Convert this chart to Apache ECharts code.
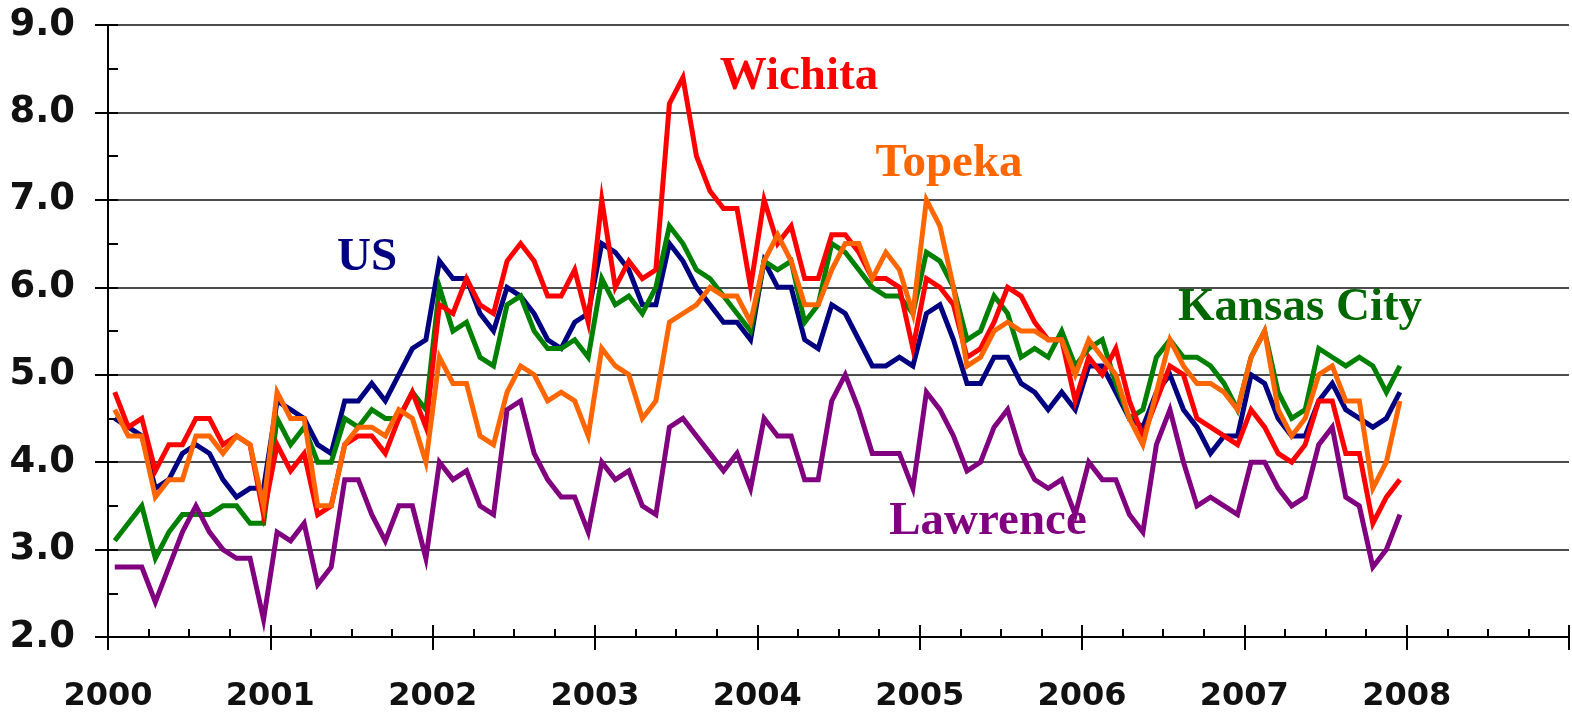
<!DOCTYPE html>
<html><head><meta charset="utf-8">
<script src="https://cdn.jsdelivr.net/npm/echarts@6/dist/echarts.min.js"></script>
<style>html,body{margin:0;padding:0;background:#fff;}#c{width:1572px;height:716px;}</style>
</head><body><div id="c"></div>
<script>
// Monthly unemployment rates (%), Jan 2000 – Dec 2007
const startYear = 2000;
const yearTicks = [2000, 2001, 2002, 2003, 2004, 2005, 2006, 2007, 2008];
const seriesNames = ['US', 'Kansas City', 'Wichita', 'Topeka', 'Lawrence'];

const usRate = [
  4.5,4.4,4.3,3.7,3.8,4.1,4.2,4.1,3.8,3.6,3.7,3.7,
  4.7,4.6,4.5,4.2,4.1,4.7,4.7,4.9,4.7,5.0,5.3,5.4,
  6.3,6.1,6.1,5.7,5.5,6.0,5.9,5.7,5.4,5.3,5.6,5.7,
  6.5,6.4,6.2,5.8,5.8,6.5,6.3,6.0,5.8,5.6,5.6,5.4,
  6.3,6.0,6.0,5.4,5.3,5.8,5.7,5.4,5.1,5.1,5.2,5.1,
  5.7,5.8,5.4,4.9,4.9,5.2,5.2,4.9,4.8,4.6,4.8,4.6,
  5.1,5.1,4.8,4.5,4.4,4.8,5.0,4.6,4.4,4.1,4.3,4.3,
  5.0,4.9,4.5,4.3,4.3,4.7,4.9,4.6,4.5,4.4,4.5,4.8
];
const kansasCityRate = [
  3.1,3.3,3.5,2.9,3.2,3.4,3.4,3.4,3.5,3.5,3.3,3.3,
  4.5,4.2,4.4,4.0,4.0,4.5,4.4,4.6,4.5,4.5,4.8,4.6,
  6.0,5.5,5.6,5.2,5.1,5.8,5.9,5.5,5.3,5.3,5.4,5.2,
  6.1,5.8,5.9,5.7,6.0,6.7,6.5,6.2,6.1,5.9,5.7,5.5,
  6.3,6.2,6.3,5.6,5.8,6.5,6.4,6.2,6.0,5.9,5.9,5.7,
  6.4,6.3,6.0,5.4,5.5,5.9,5.7,5.2,5.3,5.2,5.5,5.1,
  5.3,5.4,4.9,4.5,4.6,5.2,5.4,5.2,5.2,5.1,4.9,4.6,
  5.2,5.5,4.8,4.5,4.6,5.3,5.2,5.1,5.2,5.1,4.8,5.1
];
const wichitaRate = [
  4.8,4.4,4.5,3.9,4.2,4.2,4.5,4.5,4.2,4.3,4.2,3.4,
  4.2,3.9,4.1,3.4,3.5,4.2,4.3,4.3,4.1,4.5,4.8,4.4,
  5.8,5.7,6.1,5.8,5.7,6.3,6.5,6.3,5.9,5.9,6.2,5.6,
  7.0,6.0,6.3,6.1,6.2,8.1,8.4,7.5,7.1,6.9,6.9,6.0,
  7.0,6.5,6.7,6.1,6.1,6.6,6.6,6.4,6.1,6.1,6.0,5.3,
  6.1,6.0,5.8,5.2,5.3,5.6,6.0,5.9,5.6,5.4,5.4,4.7,
  5.2,5.0,5.3,4.7,4.3,4.7,5.1,5.0,4.5,4.4,4.3,4.2,
  4.6,4.4,4.1,4.0,4.2,4.7,4.7,4.1,4.1,3.3,3.6,3.8
];
const topekaRate = [
  4.6,4.3,4.3,3.6,3.8,3.8,4.3,4.3,4.1,4.3,4.2,3.5,
  4.8,4.5,4.5,3.5,3.5,4.2,4.4,4.4,4.3,4.6,4.5,4.0,
  5.2,4.9,4.9,4.3,4.2,4.8,5.1,5.0,4.7,4.8,4.7,4.3,
  5.3,5.1,5.0,4.5,4.7,5.6,5.7,5.8,6.0,5.9,5.9,5.6,
  6.3,6.6,6.3,5.8,5.8,6.2,6.5,6.5,6.1,6.4,6.2,5.7,
  7.0,6.7,6.0,5.1,5.2,5.5,5.6,5.5,5.5,5.4,5.4,5.0,
  5.4,5.2,5.0,4.5,4.2,4.8,5.4,5.1,4.9,4.9,4.8,4.6,
  5.2,5.5,4.6,4.3,4.5,5.0,5.1,4.7,4.7,3.7,4.0,4.7
];
const lawrenceRate = [
  2.8,2.8,2.8,2.4,2.8,3.2,3.5,3.2,3.0,2.9,2.9,2.2,
  3.2,3.1,3.3,2.6,2.8,3.8,3.8,3.4,3.1,3.5,3.5,2.9,
  4.0,3.8,3.9,3.5,3.4,4.6,4.7,4.1,3.8,3.6,3.6,3.2,
  4.0,3.8,3.9,3.5,3.4,4.4,4.5,4.3,4.1,3.9,4.1,3.7,
  4.5,4.3,4.3,3.8,3.8,4.7,5.0,4.6,4.1,4.1,4.1,3.7,
  4.8,4.6,4.3,3.9,4.0,4.4,4.6,4.1,3.8,3.7,3.8,3.4,
  4.0,3.8,3.8,3.4,3.2,4.2,4.6,4.0,3.5,3.6,3.5,3.4,
  4.0,4.0,3.7,3.5,3.6,4.2,4.4,3.6,3.5,2.8,3.0,3.4
];

const seriesData = [usRate, kansasCityRate, wichitaRate, topekaRate, lawrenceRate];
const lineColors = ['#000080', '#008000', '#FF0000', '#FF6600', '#800080'];
const labelColors = ['#000080', '#006600', '#FF0000', '#FF6600', '#800080'];

// mid-month position of each observation in decimal years
function toPoints(vals) {
  return vals.map((v, i) => [startYear + (i + 0.5) / 12, v]);
}

const chart = echarts.init(document.getElementById('c'), null, {renderer: 'canvas'});

const labelFont = {fontFamily: '"DejaVu Sans", Verdana, sans-serif', fontWeight: 'bold', color: '#111'};

const baseX = {type: 'value', min: 2000, max: 2009, position: 'bottom', gridIndex: 0, splitLine: {show: false}};

const option = {
  animation: false,
  backgroundColor: '#ffffff',
  grid: {left: 108, right: 0, top: 25, bottom: 79, containLabel: false},
  xAxis: [
    Object.assign({}, baseX, {
      interval: 1,
      axisLine: {show: true, lineStyle: {color: '#000', width: 2}},
      axisTick: {show: true, inside: false, length: 13, lineStyle: {color: '#000', width: 2}},
      axisLabel: Object.assign({
        fontSize: 32, margin: 44,
        formatter: v => (yearTicks.indexOf(Math.round(v)) >= 0 && Math.abs(v - Math.round(v)) < 1e-6) ? String(Math.round(v)) : ''
      }, labelFont)
    }),
    Object.assign({}, baseX, {
      interval: 1,
      axisLine: {show: false},
      axisTick: {show: true, inside: true, length: 12, lineStyle: {color: '#000', width: 2}},
      axisLabel: {show: false}
    }),
    Object.assign({}, baseX, {
      interval: 0.25,
      axisLine: {show: false},
      axisTick: {show: true, inside: true, length: 8, lineStyle: {color: '#000', width: 2}},
      axisLabel: {show: false}
    })
  ],
  yAxis: [
    {
      type: 'value', min: 2, max: 9, interval: 1, position: 'left',
      axisLine: {show: true, lineStyle: {color: '#000', width: 2}},
      axisTick: {show: true, inside: false, length: 13, lineStyle: {color: '#000', width: 2}},
      axisLabel: Object.assign({fontSize: 37, margin: 33, formatter: v => v.toFixed(1)}, labelFont),
      splitLine: {show: true, lineStyle: {color: '#111', width: 1.5}}
    },
    {
      type: 'value', min: 2, max: 9, interval: 0.5, position: 'left',
      axisLine: {show: false},
      axisTick: {show: true, inside: true, length: 10, lineStyle: {color: '#000', width: 2}},
      axisLabel: {show: false},
      splitLine: {show: false}
    }
  ],
  series: seriesNames.map((name, k) => ({
    name: name,
    type: 'line',
    xAxisIndex: 0, yAxisIndex: 0,
    data: toPoints(seriesData[k]),
    showSymbol: false,
    symbol: 'none',
    lineStyle: {color: lineColors[k], width: 5, join: 'miter'},
    itemStyle: {color: lineColors[k]},
    z: 2 + k
  })),
  graphic: [
    {name: 'Wichita', x: 799, y: 77},
    {name: 'Topeka', x: 949, y: 164},
    {name: 'US', x: 367, y: 258},
    {name: 'Kansas City', x: 1300, y: 308},
    {name: 'Lawrence', x: 988, y: 522}
  ].map(a => ({
    type: 'text', x: a.x, y: a.y, z: 100,
    style: {
      text: a.name,
      fill: labelColors[seriesNames.indexOf(a.name)],
      font: 'bold 47px "Liberation Serif", "Times New Roman", serif',
      textAlign: 'center', textVerticalAlign: 'middle'
    }
  }))
};
chart.setOption(option);
</script>
</body></html>
